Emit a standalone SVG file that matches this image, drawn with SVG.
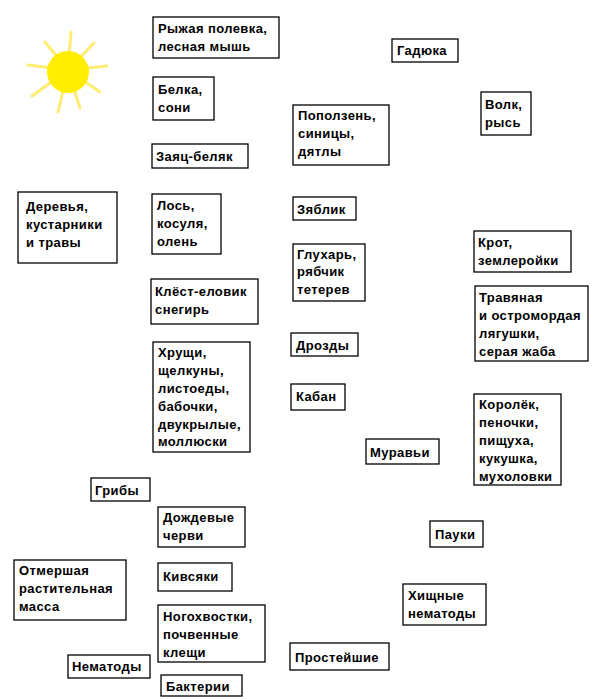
<svg xmlns="http://www.w3.org/2000/svg" width="600" height="700" viewBox="0 0 600 700">
<style>
rect{fill:#fff;stroke:#000;stroke-width:1.3}
text{font-family:"Liberation Sans",Arial,sans-serif;font-weight:bold;font-size:13px;fill:#000;letter-spacing:0.4px}
.ray{stroke:#ffec70;stroke-width:3;stroke-linecap:round}
</style>
<rect x="0" y="0" width="600" height="700" style="fill:#fff;stroke:none"/>
<g id="sun">
<line class="ray" x1="68" y1="70" x2="71" y2="32"/>
<line class="ray" x1="68" y1="70" x2="94" y2="43"/>
<line class="ray" x1="68" y1="70" x2="107" y2="66"/>
<line class="ray" x1="68" y1="70" x2="100" y2="92"/>
<line class="ray" x1="68" y1="70" x2="80" y2="108"/>
<line class="ray" x1="68" y1="70" x2="58" y2="112"/>
<line class="ray" x1="68" y1="70" x2="32" y2="96"/>
<line class="ray" x1="68" y1="70" x2="28" y2="65"/>
<line class="ray" x1="68" y1="70" x2="45" y2="42"/>
<circle cx="68" cy="72" r="21" fill="#ffee00"/>
</g>
<g id="n1"><rect x="153" y="17" width="126" height="41"/><text x="158" y="33">Рыжая полевка,</text><text x="158" y="51">лесная мышь</text></g>
<g id="n2"><rect x="153" y="77" width="61" height="43"/><text x="158" y="94">Белка,</text><text x="158" y="112">сони</text></g>
<g id="n3"><rect x="152" y="144" width="96" height="24"/><text x="156" y="161">Заяц-беляк</text></g>
<g id="n4"><rect x="152" y="194" width="69" height="60"/><text x="157" y="210">Лось,</text><text x="157" y="228">косуля,</text><text x="157" y="246">олень</text></g>
<g id="n5"><rect x="18" y="192" width="99" height="71"/><text x="26" y="211">Деревья,</text><text x="26" y="229">кустарники</text><text x="26" y="247">и травы</text></g>
<g id="n6"><rect x="151" y="279" width="107" height="45"/><text x="155" y="296">Клёст-еловик</text><text x="155" y="314">снегирь</text></g>
<g id="n7"><rect x="153" y="342" width="97" height="110"/><text x="158" y="357">Хрущи,</text><text x="158" y="375">щелкуны,</text><text x="158" y="393">листоеды,</text><text x="158" y="411">бабочки,</text><text x="158" y="429">двукрылые,</text><text x="158" y="446">моллюски</text></g>
<g id="n8"><rect x="392" y="39" width="66" height="23"/><text x="397" y="55">Гадюка</text></g>
<g id="n9"><rect x="293" y="105" width="96" height="60"/><text x="298" y="120">Поползень,</text><text x="298" y="138">синицы,</text><text x="298" y="156">дятлы</text></g>
<g id="n10"><rect x="481" y="92" width="50" height="43"/><text x="485" y="109">Волк,</text><text x="485" y="127">рысь</text></g>
<g id="n11"><rect x="293" y="197" width="63" height="23"/><text x="297" y="214">Зяблик</text></g>
<g id="n12"><rect x="293" y="244" width="72" height="57"/><text x="297" y="259">Глухарь,</text><text x="297" y="276">рябчик</text><text x="297" y="294">тетерев</text></g>
<g id="n13"><rect x="474" y="231" width="97" height="41"/><text x="478" y="247">Крот,</text><text x="478" y="265">землеройки</text></g>
<g id="n14"><rect x="475" y="286" width="113" height="75"/><text x="479" y="302">Травяная</text><text x="479" y="320">и остромордая</text><text x="479" y="338">лягушки,</text><text x="479" y="356">серая жаба</text></g>
<g id="n15"><rect x="291" y="333" width="67" height="23"/><text x="296" y="350">Дрозды</text></g>
<g id="n16"><rect x="291" y="384" width="54" height="26"/><text x="296" y="401">Кабан</text></g>
<g id="n17"><rect x="474" y="394" width="87" height="91"/><text x="479" y="409">Королёк,</text><text x="479" y="427">пеночки,</text><text x="479" y="445">пищуха,</text><text x="479" y="463">кукушка,</text><text x="479" y="481">мухоловки</text></g>
<g id="n18"><rect x="366" y="439" width="73" height="25"/><text x="370" y="457">Муравьи</text></g>
<g id="n19"><rect x="91" y="478" width="59" height="23"/><text x="95" y="495">Грибы</text></g>
<g id="n20"><rect x="158" y="507" width="87" height="40"/><text x="163" y="522">Дождевые</text><text x="163" y="540">черви</text></g>
<g id="n21"><rect x="430" y="521" width="53" height="26"/><text x="435" y="539">Пауки</text></g>
<g id="n22"><rect x="14" y="560" width="112" height="60"/><text x="19" y="575">Отмершая</text><text x="19" y="593">растительная</text><text x="19" y="611">масса</text></g>
<g id="n23"><rect x="158" y="563" width="74" height="28"/><text x="163" y="581">Кивсяки</text></g>
<g id="n24"><rect x="403" y="584" width="83" height="41"/><text x="408" y="600">Хищные</text><text x="408" y="618">нематоды</text></g>
<g id="n25"><rect x="158" y="605" width="107" height="57"/><text x="163" y="621">Ногохвостки,</text><text x="163" y="639">почвенные</text><text x="163" y="657">клещи</text></g>
<g id="n26"><rect x="290" y="643" width="99" height="27"/><text x="295" y="662">Простейшие</text></g>
<g id="n27"><rect x="68" y="655" width="82" height="23"/><text x="72" y="671">Нематоды</text></g>
<g id="n28"><rect x="161" y="675" width="81" height="21"/><text x="166" y="691">Бактерии</text></g>
<g id="connectors"/>
</svg>
